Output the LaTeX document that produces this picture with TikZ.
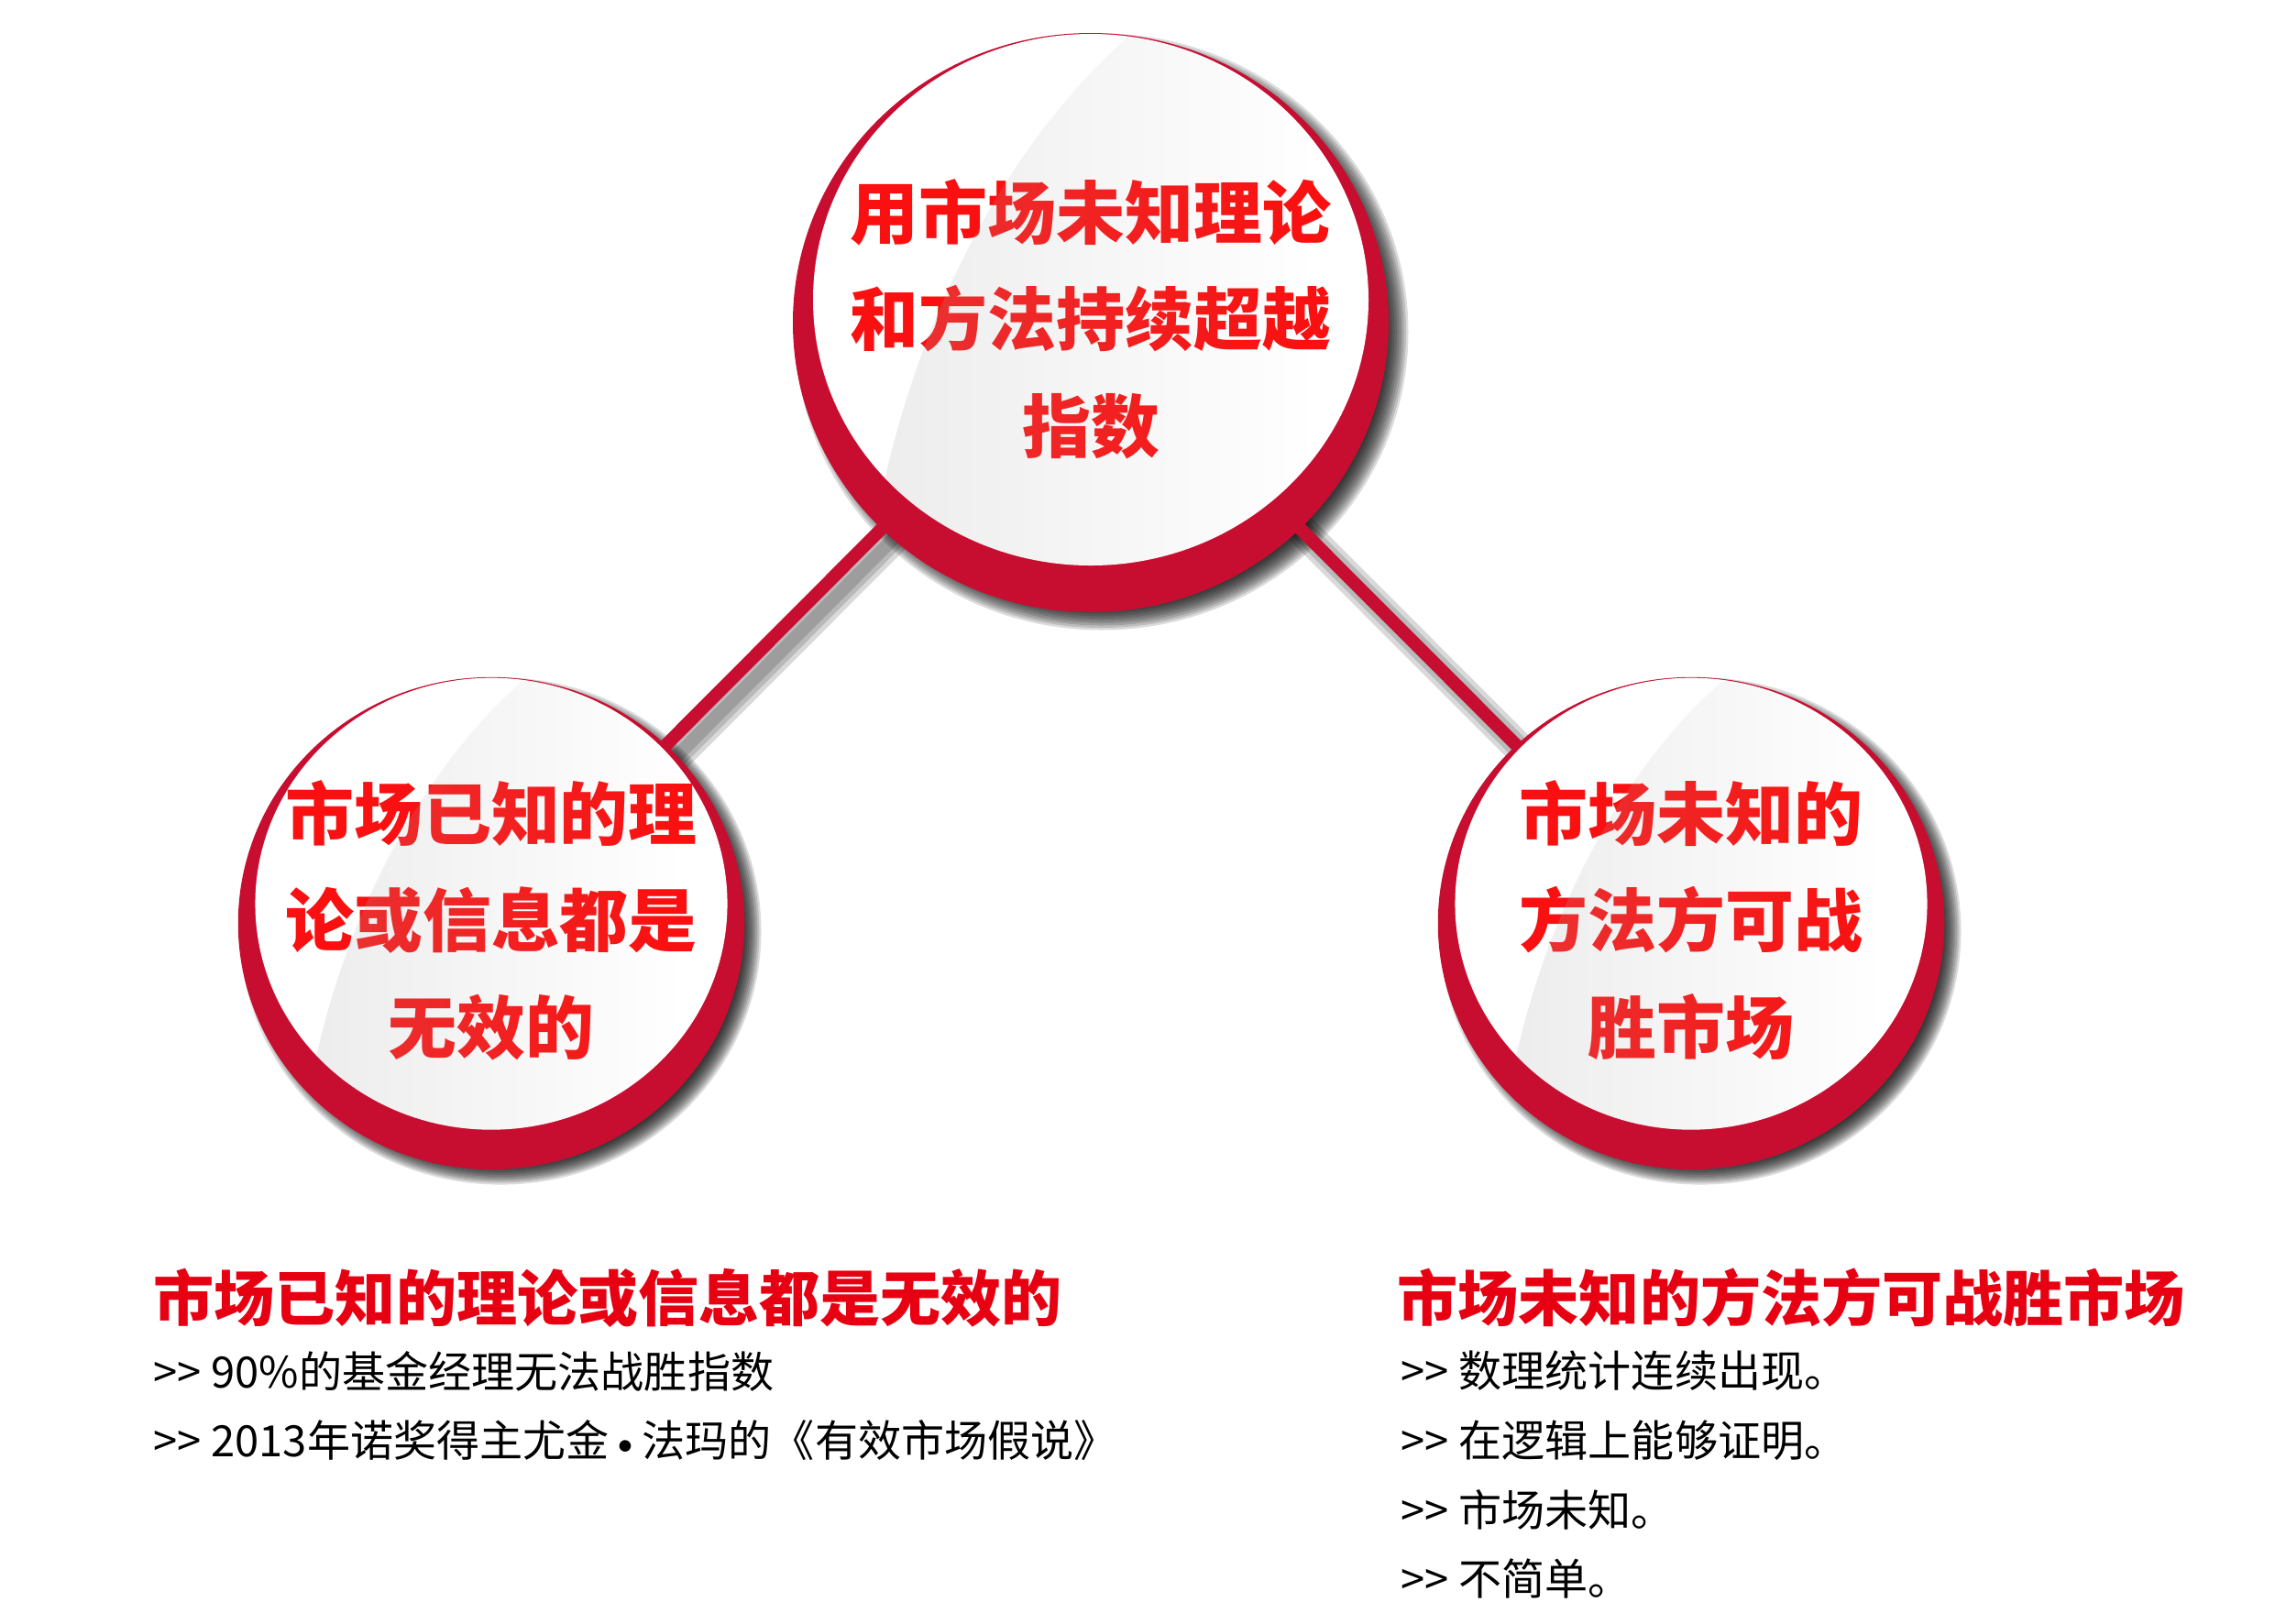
\documentclass[tikz,border=0pt]{standalone}
\usepackage{fontspec}
\newfontfamily\cjk{Noto Sans CJK SC}
\usepackage{xcolor}
\usetikzlibrary{backgrounds,fadings}
\definecolor{ringred}{RGB}{200,14,48}
\definecolor{textred}{RGB}{250,16,16}
\definecolor{headred}{RGB}{230,0,18}
\tikzfading[name=glossfade, left color=transparent!76, right color=transparent!100]
\tikzset{%
    bubbletext/.style={align=center, text=textred, inner sep=0pt,
        font=\cjk\bfseries\fontsize{21.3pt}{33.2pt}\selectfont},
    headtext/.style={anchor=west, inner sep=0pt, text=headred,
        font=\cjk\bfseries\fontsize{18.8pt}{22pt}\selectfont},
    itemtext/.style={anchor=west, inner sep=0pt,
        font=\cjk\fontsize{13.4pt}{16pt}\selectfont},
    link/.style={line width=0.14cm, ringred},
}
% shadow, face and gloss of one bubble, #1 node, #2 scale
\newcommand{\bubbleshadow}[2]{%
  \begin{scope}[shift={(#1.center)}, scale=#2]
    \foreach \k in {0,...,9}
      \fill[black, opacity=0.14] (0.12,-0.14) ellipse ({3.12+0.025*\k} and {3.03+0.025*\k});
  \end{scope}}
\newcommand{\bubbleface}[2]{%
  \begin{scope}[shift={(#1.center)}, scale=#2]
    \fill[ringred] (0,-0.04) ellipse (3.25 and 3.16);
    \fill[white] (0,0.21) ellipse (3.03 and 2.90);
  \end{scope}}
\newcommand{\bubblegloss}[2]{%
  \begin{scope}[shift={(#1.center)}, scale=#2]
    \clip (0,0.21) ellipse (3.03 and 2.90);
    \fill[black!31, path fading=glossfade] (0.55,3.2) .. controls (-0.9,2.0) and (-1.9,0.0) .. (-2.3,-2.0)
      -- (-2.6,-3.0) -- (2.4,-3.0) -- (2.4,3.2) -- cycle;
  \end{scope}}

\begin{document}
\begin{tikzpicture}
\useasboundingbox (0,0) rectangle (24.82,-17.71);

\node[bubbletext] (goal) at (11.90,-3.48) {用市场未知理论\\和方法持续超越\\指数};
\node[bubbletext] (known) at (5.36,-10.04) {市场已知的理\\论或信息都是\\无效的};
\node[bubbletext] (unknown) at (18.45,-10.04) {市场未知的\\方法方可战\\胜市场};

\begin{scope}[on background layer]
\bubbleshadow{goal}{1}
\bubbleshadow{known}{0.85}
\bubbleshadow{unknown}{0.85}
\foreach \w in {0.14,0.24,0.34}
  \draw[black, opacity=0.15, line width=\w cm] ([shift={(0.12,-0.12)}]goal.center) -- ([shift={(0.12,-0.12)}]known.center);
\foreach \w in {0.14,0.24,0.34}
  \draw[black, opacity=0.15, line width=\w cm] ([shift={(0.12,-0.12)}]goal.center) -- ([shift={(0.12,-0.12)}]unknown.center);
\draw[link] (goal.center) -- (known.center);
\draw[link] (goal.center) -- (unknown.center);
\bubbleface{goal}{1}
\bubbleface{known}{0.85}
\bubbleface{unknown}{0.85}
\end{scope}

\bubblegloss{goal}{1}
\bubblegloss{known}{0.85}
\bubblegloss{unknown}{0.85}

\node[headtext] (knownhead) at (1.67,-14.16) {市场已知的理论或信息都是无效的};
\node[itemtext] (known1) at (1.67,-14.96) {>> 90\%的基金经理无法战胜指数};
\node[itemtext] (known2) at (1.67,-15.72) {>> 2013年诺奖得主尤金{\normalfont\textbullet}法玛的《有效市场假说》};

\node[headtext] (unknownhead) at (15.24,-14.16) {市场未知的方法方可战胜市场};
\node[itemtext] (unknown1) at (15.28,-14.96) {>> 数理统计连续出现。};
\node[itemtext] (unknown2) at (15.28,-15.72) {>> 在逻辑上能够证明。};
\node[itemtext] (unknown3) at (15.28,-16.47) {>> 市场未知。};
\node[itemtext] (unknown4) at (15.28,-17.22) {>> 不简单。};
\end{tikzpicture}
\end{document}
